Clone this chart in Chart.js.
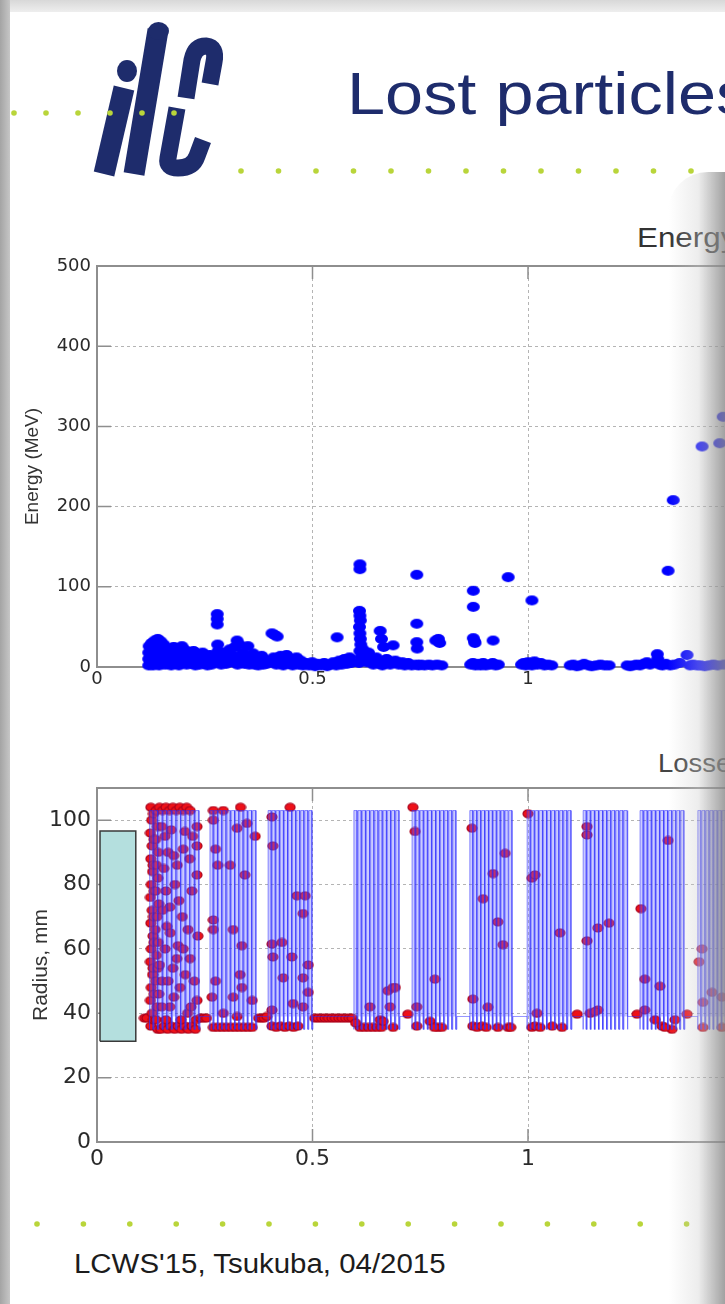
<!DOCTYPE html>
<html>
<head>
<meta charset="utf-8">
<title>Lost particles</title>
<script src="https://cdn.jsdelivr.net/npm/chart.js@4.4.1/dist/chart.umd.min.js"></script>
<style>
  html, body { margin: 0; padding: 0; }
  body { width: 725px; height: 1304px; overflow: hidden; position: relative; background: #fff;
         font-family: "Liberation Sans", Arial, sans-serif; }
  #edgeTop { position: absolute; left: 0; top: 0; width: 725px; height: 12px;
             background: linear-gradient(#d8d8d8, #eeeeee); }
  #edgeLeft { position: absolute; left: 0; top: 0; width: 10px; height: 1304px;
              background: linear-gradient(to right, #a4a4a4, #c6c6c6); }
  #logo { position: absolute; left: 0; top: 0; }
  #dots { position: absolute; left: 0; top: 0; }
  .txt { position: absolute; white-space: nowrap; transform-origin: 0 0; }
  #title { left: 347px; top: 65px; font-size: 59px; line-height: 59px; color: #1e2c6c; transform: scaleX(1.16); }
  #footer { left: 74px; top: 1251px; font-size: 27px; line-height: 27px; color: #1c1c1c; transform: scaleX(1.09); }
  #t1 { left: 637px; top: 224px; font-size: 28px; line-height: 28px; color: #333; transform: scaleX(1.12); }
  #t2 { left: 658px; top: 751px; font-size: 25px; line-height: 25px; color: #444; transform: scaleX(1.1); }
  canvas { position: absolute; left: 0; }
  #energyChart { top: 200px; }
  #lossChart { top: 740px; }
  #shade { position: absolute; left: 668px; top: 172px; width: 60px; height: 1140px; border-top-left-radius: 40px;
           background: linear-gradient(to right, rgba(255,255,255,0), rgba(205,205,205,0.35) 50%, rgba(135,135,135,0.85)); }
</style>
</head>
<body>
<div id="edgeTop"></div>

<svg id="logo" width="240" height="190">
  <g fill="none" stroke="#1e2c6c" stroke-width="21">
    <line x1="124" y1="88" x2="104" y2="174"/>
    <line x1="158" y1="30" x2="134" y2="174"/>
  </g>
  <g fill="none" stroke="#1e2c6c" stroke-width="17">
    <path d="M 186 98 L 192 60 Q 195 46 206 46 Q 217 47 214 62 L 210 84"/>
    <path d="M 177 108 L 168 158 Q 166 168 178 168 Q 193 168 197 156 L 203 140"/>
  </g>
  <ellipse cx="158.5" cy="31" rx="10.5" ry="9" fill="#1e2c6c"/>
  <ellipse cx="127" cy="71" rx="10" ry="11" fill="#1e2c6c"/>
</svg>
<svg id="dots" width="725" height="1304"></svg>

<div class="txt" id="title">Lost particles</div>
<div class="txt" id="t1">Energy</div>
<div class="txt" id="t2">Losses</div>
<div class="txt" id="footer">LCWS'15, Tsukuba, 04/2015</div>

<canvas id="energyChart" width="975" height="510"></canvas>
<canvas id="lossChart" width="975" height="450"></canvas>

<div id="edgeLeft"></div>
<div id="shade"></div>

<script>
// ---- data ----
// upper plot: position of lost particle vs its energy (MeV)
const lostEnergy = [
  [0.120,2],[0.120,10],[0.120,18],[0.121,26],[0.124,5],[0.125,14],[0.126,22],[0.127,30],[0.130,2],[0.131,9],
  [0.132,17],[0.133,25],[0.134,33],[0.137,4],[0.138,12],[0.139,20],[0.140,28],[0.141,35],[0.144,2],[0.145,8],
  [0.146,16],[0.147,24],[0.148,32],[0.151,5],[0.152,12],[0.153,20],[0.155,28],[0.158,3],[0.159,10],[0.160,18],
  [0.165,4],[0.167,12],[0.169,20],[0.172,2],[0.174,9],[0.176,17],[0.178,25],[0.182,4],[0.184,12],[0.186,20],
  [0.190,2],[0.192,10],[0.194,18],[0.197,26],[0.200,5],[0.202,13],[0.205,21],[0.208,3],[0.210,11],[0.213,18],
  [0.218,4],[0.220,12],[0.224,20],[0.228,2],[0.230,9],[0.234,16],[0.238,3],[0.241,11],[0.245,18],[0.249,4],
  [0.252,10],[0.256,2],[0.259,8],[0.262,15],[0.266,3],[0.268,10],
  [0.279,53],[0.279,60],[0.279,66],[0.280,28],[0.281,20],[0.278,10],
  [0.288,3],[0.292,10],[0.296,18],[0.300,4],[0.304,12],[0.308,22],[0.312,6],[0.316,14],[0.320,25],[0.325,33],
  [0.330,28],[0.326,3],[0.333,9],[0.338,18],[0.342,4],[0.347,12],[0.350,26],[0.353,3],[0.357,10],[0.362,17],
  [0.366,3],[0.370,9],[0.374,2],[0.378,8],[0.382,14],[0.386,3],[0.390,9],[0.394,4],
  [0.406,42],[0.412,40],[0.418,38],[0.404,6],[0.410,12],[0.416,3],[0.421,8],[0.426,14],
  [0.432,2],[0.436,9],[0.440,15],[0.445,4],[0.449,10],[0.454,2],[0.458,7],[0.463,12],[0.468,3],[0.473,8],
  [0.478,2],[0.485,5],[0.492,2],[0.499,6],[0.506,1],[0.513,4],[0.520,2],[0.527,5],[0.534,1],[0.541,3],
  [0.548,6],[0.557,37],[0.555,2],[0.562,8],[0.568,3],[0.574,10],[0.580,4],[0.586,12],[0.590,5],
  [0.610,122],[0.610,128],[0.609,70],[0.610,64],[0.611,58],[0.609,50],[0.610,42],[0.611,35],[0.612,28],[0.610,20],
  [0.612,12],[0.608,5],[0.617,22],[0.622,14],[0.626,6],[0.630,18],[0.636,8],[0.641,3],[0.648,12],[0.657,45],
  [0.660,35],[0.665,25],[0.655,4],[0.662,2],[0.672,10],[0.687,27],[0.692,8],[0.680,3],[0.700,3],[0.708,6],
  [0.714,2],[0.722,5],[0.730,2],[0.742,115],[0.742,54],[0.742,31],[0.743,23],[0.741,3],[0.746,2],
  [0.752,3],[0.760,2],[0.770,3],[0.778,2],[0.786,33],[0.792,35],[0.795,30],[0.789,3],[0.800,2],
  [0.873,95],[0.873,75],[0.873,36],[0.876,32],[0.877,30],[0.867,3],[0.872,5],[0.878,2],[0.884,4],[0.890,2],
  [0.896,5],[0.902,2],[0.919,33],[0.912,3],[0.918,5],[0.925,2],[0.931,3],[0.954,112],
  [0.985,3],[0.990,5],[0.995,2],[1.000,6],[1.003,4],[1.009,83],[1.009,2],[1.015,7],[1.022,3],[1.030,5],
  [1.038,2],[1.046,3],[1.055,2],[1.098,2],[1.105,3],[1.113,1],[1.121,2],[1.130,4],[1.140,2],[1.148,1],
  [1.158,2],[1.168,3],[1.178,2],[1.188,2],[1.230,2],[1.237,1],[1.244,2],[1.252,3],[1.260,2],[1.268,4],
  [1.276,6],[1.283,3],[1.300,16],[1.301,10],[1.305,3],[1.312,2],[1.320,4],[1.325,120],[1.337,208],[1.330,2],
  [1.340,3],[1.352,5],[1.369,15],[1.376,2],[1.383,3],[1.392,2],[1.404,275],[1.400,2],[1.410,1],[1.420,2],
  [1.430,3],[1.440,2],[1.445,279],[1.453,312],[1.455,3],[1.470,6],[1.490,4]
];

// lower plot: position of lost particle vs radius (mm)
const lostRadius = [
  [0.110,38.5],[0.116,38.5],
  [0.125,104],[0.127,100],[0.124,96],[0.128,92],[0.125,88],[0.129,84],[0.126,80],[0.124,76],[0.128,72],[0.125,68],
  [0.130,64],[0.126,60],[0.124,56],[0.129,52],[0.126,48],[0.124,44],[0.128,40],[0.125,36],
  [0.131,102],[0.132,94],[0.130,86],[0.133,78],[0.131,70],[0.132,62],[0.130,54],[0.133,46],[0.131,38],
  [0.137,103],[0.140,98],[0.136,94],[0.142,90],[0.138,86],[0.141,82],[0.136,78],[0.143,74],[0.139,70],[0.135,66],
  [0.142,62],[0.138,58],[0.141,54],[0.136,50],[0.143,46],[0.139,42],[0.137,38],[0.141,35],
  [0.145,104],[0.152,103],[0.160,104],[0.168,103],[0.176,104],[0.184,103],[0.192,104],[0.200,103],[0.208,104],[0.216,103],
  [0.148,35],[0.156,36],[0.164,35],[0.172,36],[0.180,35],[0.188,36],[0.196,35],[0.204,36],[0.212,35],[0.220,36],[0.228,35],
  [0.232,98],[0.232,92],[0.232,83],[0.234,64],[0.232,44],[0.216,57],[0.204,96.5],[0.200,91],[0.186,86],[0.181,80],
  [0.169,73],[0.162,67],[0.188,61],[0.176,54],[0.151,50],[0.169,42],[0.193,48],
  [0.150,98],[0.158,95],[0.165,90],[0.155,85],[0.172,97],[0.178,89],[0.160,78],[0.190,75],[0.152,72],[0.198,70],
  [0.170,65],[0.158,60],[0.185,57],[0.145,55],[0.205,52],[0.165,50],[0.178,45],[0.150,42],[0.210,40],[0.160,38],
  [0.195,38],[0.215,88],[0.222,95],[0.211,66],[0.220,78],[0.200,60],[0.226,50],[0.218,42],[0.230,38],
  [0.240,38.5],[0.247,38.5],[0.254,38.5],
  [0.270,103],[0.293,103],[0.333,104],[0.270,100],[0.275,91],[0.280,86],[0.309,86],[0.325,97.5],[0.348,99],[0.367,95],
  [0.343,83],[0.270,69],[0.270,66],[0.316,66],[0.336,61],[0.275,50],[0.332,52],[0.336,48],[0.316,45],[0.360,44],
  [0.267,45],[0.293,40],[0.325,39],
  [0.270,35.6],[0.280,35.6],[0.290,35.6],[0.300,35.6],[0.310,35.6],[0.320,35.6],[0.330,35.6],[0.340,35.6],[0.350,35.6],[0.360,35.6],
  [0.375,38.5],[0.382,38.5],[0.388,38.5],
  [0.406,101],[0.448,104],[0.408,92],[0.464,76.5],[0.483,76.5],[0.478,71],[0.406,61.5],[0.429,62],[0.408,57.5],[0.452,57.5],
  [0.432,51],[0.490,55],[0.478,51],[0.490,46.5],[0.455,43],[0.478,42],[0.406,41],[0.394,39],
  [0.406,36],[0.416,35.6],[0.426,36],[0.436,35.6],[0.446,36],[0.456,35.6],[0.466,36],
  [0.505,38.5],[0.513,38.5],[0.521,38.5],[0.529,38.5],[0.537,38.5],[0.545,38.5],[0.553,38.5],[0.561,38.5],[0.569,38.5],
  [0.577,38.5],[0.585,38.5],[0.592,38.5],
  [0.610,35.6],[0.620,35.6],[0.630,35.6],[0.640,35.6],[0.650,35.6],[0.660,35.6],[0.633,42],[0.657,38],[0.600,37],
  [0.664,37.5],[0.675,47],[0.680,42],[0.687,48],[0.692,48],[0.687,35.6],
  [0.733,104],[0.738,96.5],[0.721,39.7],[0.742,42],[0.742,36],[0.773,37.5],[0.784,50.6],[0.791,35.6],[0.800,35.6],[0.783,35.6],
  [0.870,97.5],[0.896,75.6],[0.919,83.4],[0.947,89.7],[0.930,68.4],[0.942,61.3],[0.872,44.4],[0.907,41.9],[0.872,36],[0.882,35.6],
  [0.893,36],[0.903,35.6],[0.930,35.6],[0.954,35.6],[0.960,35.6],
  [1.000,102],[1.009,82],[1.016,83],[1.074,65],[1.021,40],[1.009,35.6],[1.016,36],[1.028,35.6],[1.056,36],[1.079,35.6],
  [1.114,39.7],
  [1.137,98],[1.137,95.4],[1.137,62.5],[1.162,66.5],[1.188,68],[1.144,40],[1.162,41],[1.155,40.5],
  [1.253,39.7],
  [1.262,72.5],[1.271,50.6],[1.306,48.4],[1.325,93.7],[1.271,41],[1.295,38],[1.311,36],[1.334,35],[1.341,38],[1.318,35.6],
  [1.369,39.7],
  [1.404,60],[1.397,56],[1.406,43.4],[1.427,46.5],[1.450,45],[1.406,35.6],[1.450,35.6],[1.480,52],[1.500,38]
];

// accelerating modules drawn as aperture profile (mm)
const moduleStart = [0.122, 0.262, 0.397, 0.596, 0.731, 0.865, 0.998, 1.128, 1.260, 1.394, 1.528, 1.662];
const moduleEnd   = [0.239, 0.371, 0.501, 0.703, 0.835, 0.965, 1.102, 1.232, 1.364, 1.498, 1.632, 1.766];
const cellsPerModule = 11;
const irisRadius = 35;
const cellRadius = 103;
const pipeRadius = 39;

// first element aperture (box)
const boxPos = [0.007, 0.090];
const boxRadius = [31.3, 96.6];

// axis ticks
const energyTicks = { min: 0, max: 500, step: 100 };
const radiusTicks = { min: 0, max: 110, step: 20 };
const posTicks = { min: 0, max: 2, step: 0.5 };

// ---- page decoration: green dotted rules ----
const dotSvg = document.getElementById('dots');
function dotRow(x0, gap, n, y) {
  for (let i = 0; i < n; i++) {
    const c = document.createElementNS('http://www.w3.org/2000/svg', 'circle');
    c.setAttribute('cx', x0 + i * gap); c.setAttribute('cy', y); c.setAttribute('r', 2.8);
    c.setAttribute('fill', '#b9d53a');
    dotSvg.appendChild(c);
  }
}
dotRow(14, 32, 6, 113);
dotRow(241, 37.5, 13, 171);
dotRow(37, 46.4, 15, 1224);

// ---- point styles (dots are slightly wider than tall in the picture) ----
function ellipseDot(w, h, fill, stroke) {
  const c = document.createElement('canvas');
  c.width = w + 2; c.height = h + 2;
  const g = c.getContext('2d');
  g.beginPath();
  g.ellipse(c.width / 2, c.height / 2, w / 2, h / 2, 0, 0, Math.PI * 2);
  g.fillStyle = fill; g.fill();
  if (stroke) { g.lineWidth = 1.2; g.strokeStyle = stroke; g.stroke(); }
  return c;
}
const blueDot = ellipseDot(13, 10, '#0000ff');
const redDot = ellipseDot(10, 8, '#ee1118', '#a8001c');

// ---- box + inward tick marks like the original plot ----
const framePlugin = {
  id: 'frame',
  beforeDatasetsDraw(chart) {
    const { ctx, chartArea: a, scales } = chart;
    ctx.save();
    ctx.strokeStyle = '#8e8e8e';
    ctx.lineWidth = 1.5;
    ctx.beginPath();
    scales.y.ticks.forEach(t => {
      const y = scales.y.getPixelForValue(t.value);
      ctx.moveTo(a.left, y); ctx.lineTo(a.left + 14, y);
      ctx.moveTo(a.right - 14, y); ctx.lineTo(a.right, y);
    });
    scales.x.ticks.forEach(t => {
      const x = scales.x.getPixelForValue(t.value);
      ctx.moveTo(x, a.bottom); ctx.lineTo(x, a.bottom - 13);
      ctx.moveTo(x, a.top); ctx.lineTo(x, a.top + 13);
    });
    ctx.stroke();
    ctx.lineWidth = 2;
    ctx.strokeRect(a.left, a.top, a.right - a.left, a.bottom - a.top);
    ctx.restore();
  }
};

function xScale(fontSize, pad, height) {
  return {
    type: 'linear', min: posTicks.min, max: posTicks.max,
    ticks: { stepSize: posTicks.step, autoSkip: false, maxRotation: 0, padding: pad, color: '#2a2a2a',
             font: { family: 'DejaVu Sans', size: fontSize },
             callback: v => String(v) },
    grid: { color: '#b4b4b4', lineWidth: 1, drawTicks: false },
    border: { display: false, dash: [3, 3] },
    afterFit: s => { s.height = height; }
  };
}

function yScale(t, fontSize, label, labelSize, labelPad) {
  return {
    min: t.min, max: t.max,
    ticks: { stepSize: t.step, includeBounds: false, padding: 6, color: '#2a2a2a',
             font: { family: 'DejaVu Sans', size: fontSize } },
    grid: { color: '#b4b4b4', lineWidth: 1, drawTicks: false },
    border: { display: false, dash: [3, 3] },
    title: { display: true, text: label, color: '#333', padding: { top: labelPad, bottom: 0 },
             font: { family: 'Liberation Sans', size: labelSize } },
    afterFit: s => { s.width = 97; }
  };
}

Chart.defaults.animation = false;

new Chart(document.getElementById('energyChart'), {
  type: 'scatter',
  data: {
    datasets: [{
      label: 'Energy',
      data: lostEnergy.map(p => ({ x: p[0], y: p[1] })),
      pointStyle: blueDot,
      pointRadius: 6,
      clip: false
    }]
  },
  options: {
    responsive: false,
    layout: { padding: { left: 0, right: 16, top: 66, bottom: 0 } },
    plugins: { legend: { display: false }, tooltip: { enabled: false } },
    scales: {
      x: xScale(18, 2, 43),
      y: yScale(energyTicks, 18, 'Energy (MeV)', 19, 21)
    }
  },
  plugins: [framePlugin]
});

// aperture profile built from module limits
const profile = [];
moduleStart.forEach((s, i) => {
  const e = moduleEnd[i];
  const p = (e - s) / cellsPerModule;
  profile.push({ x: s, y: pipeRadius });
  for (let k = 0; k < cellsPerModule; k++) {
    const a = s + k * p;
    const b = a + 0.76 * p;
    profile.push({ x: a, y: irisRadius }, { x: a, y: cellRadius }, { x: b, y: cellRadius }, { x: b, y: irisRadius });
  }
  profile.push({ x: e, y: irisRadius }, { x: e, y: pipeRadius });
});

const boxShape = [
  { x: boxPos[0], y: boxRadius[0] }, { x: boxPos[1], y: boxRadius[0] },
  { x: boxPos[1], y: boxRadius[1] }, { x: boxPos[0], y: boxRadius[1] },
  { x: boxPos[0], y: boxRadius[0] }
];

new Chart(document.getElementById('lossChart'), {
  type: 'scatter',
  data: {
    datasets: [
      {
        type: 'line', label: 'aperture', data: profile, order: 0,
        borderColor: 'rgba(45,45,255,0.5)', borderWidth: 1,
        backgroundColor: 'rgba(110,110,255,0.36)', fill: { value: pipeRadius },
        pointRadius: 0, tension: 0
      },
      {
        label: 'lost', data: lostRadius.map(p => ({ x: p[0], y: p[1] })), order: 1,
        pointStyle: redDot, pointRadius: 5, clip: false
      },
      {
        type: 'line', label: 'box', data: boxShape, order: 2,
        borderColor: '#3a3a3a', borderWidth: 1.5, backgroundColor: '#b4dfde', fill: 'shape',
        pointRadius: 0, tension: 0
      }
    ]
  },
  options: {
    responsive: false,
    layout: { padding: { left: 0, right: 16, top: 48, bottom: 0 } },
    plugins: { legend: { display: false }, tooltip: { enabled: false } },
    scales: {
      x: xScale(22, 4, 48),
      y: yScale(radiusTicks, 22, 'Radius, mm', 21, 29)
    }
  },
  plugins: [framePlugin]
});
</script>
</body>
</html>
